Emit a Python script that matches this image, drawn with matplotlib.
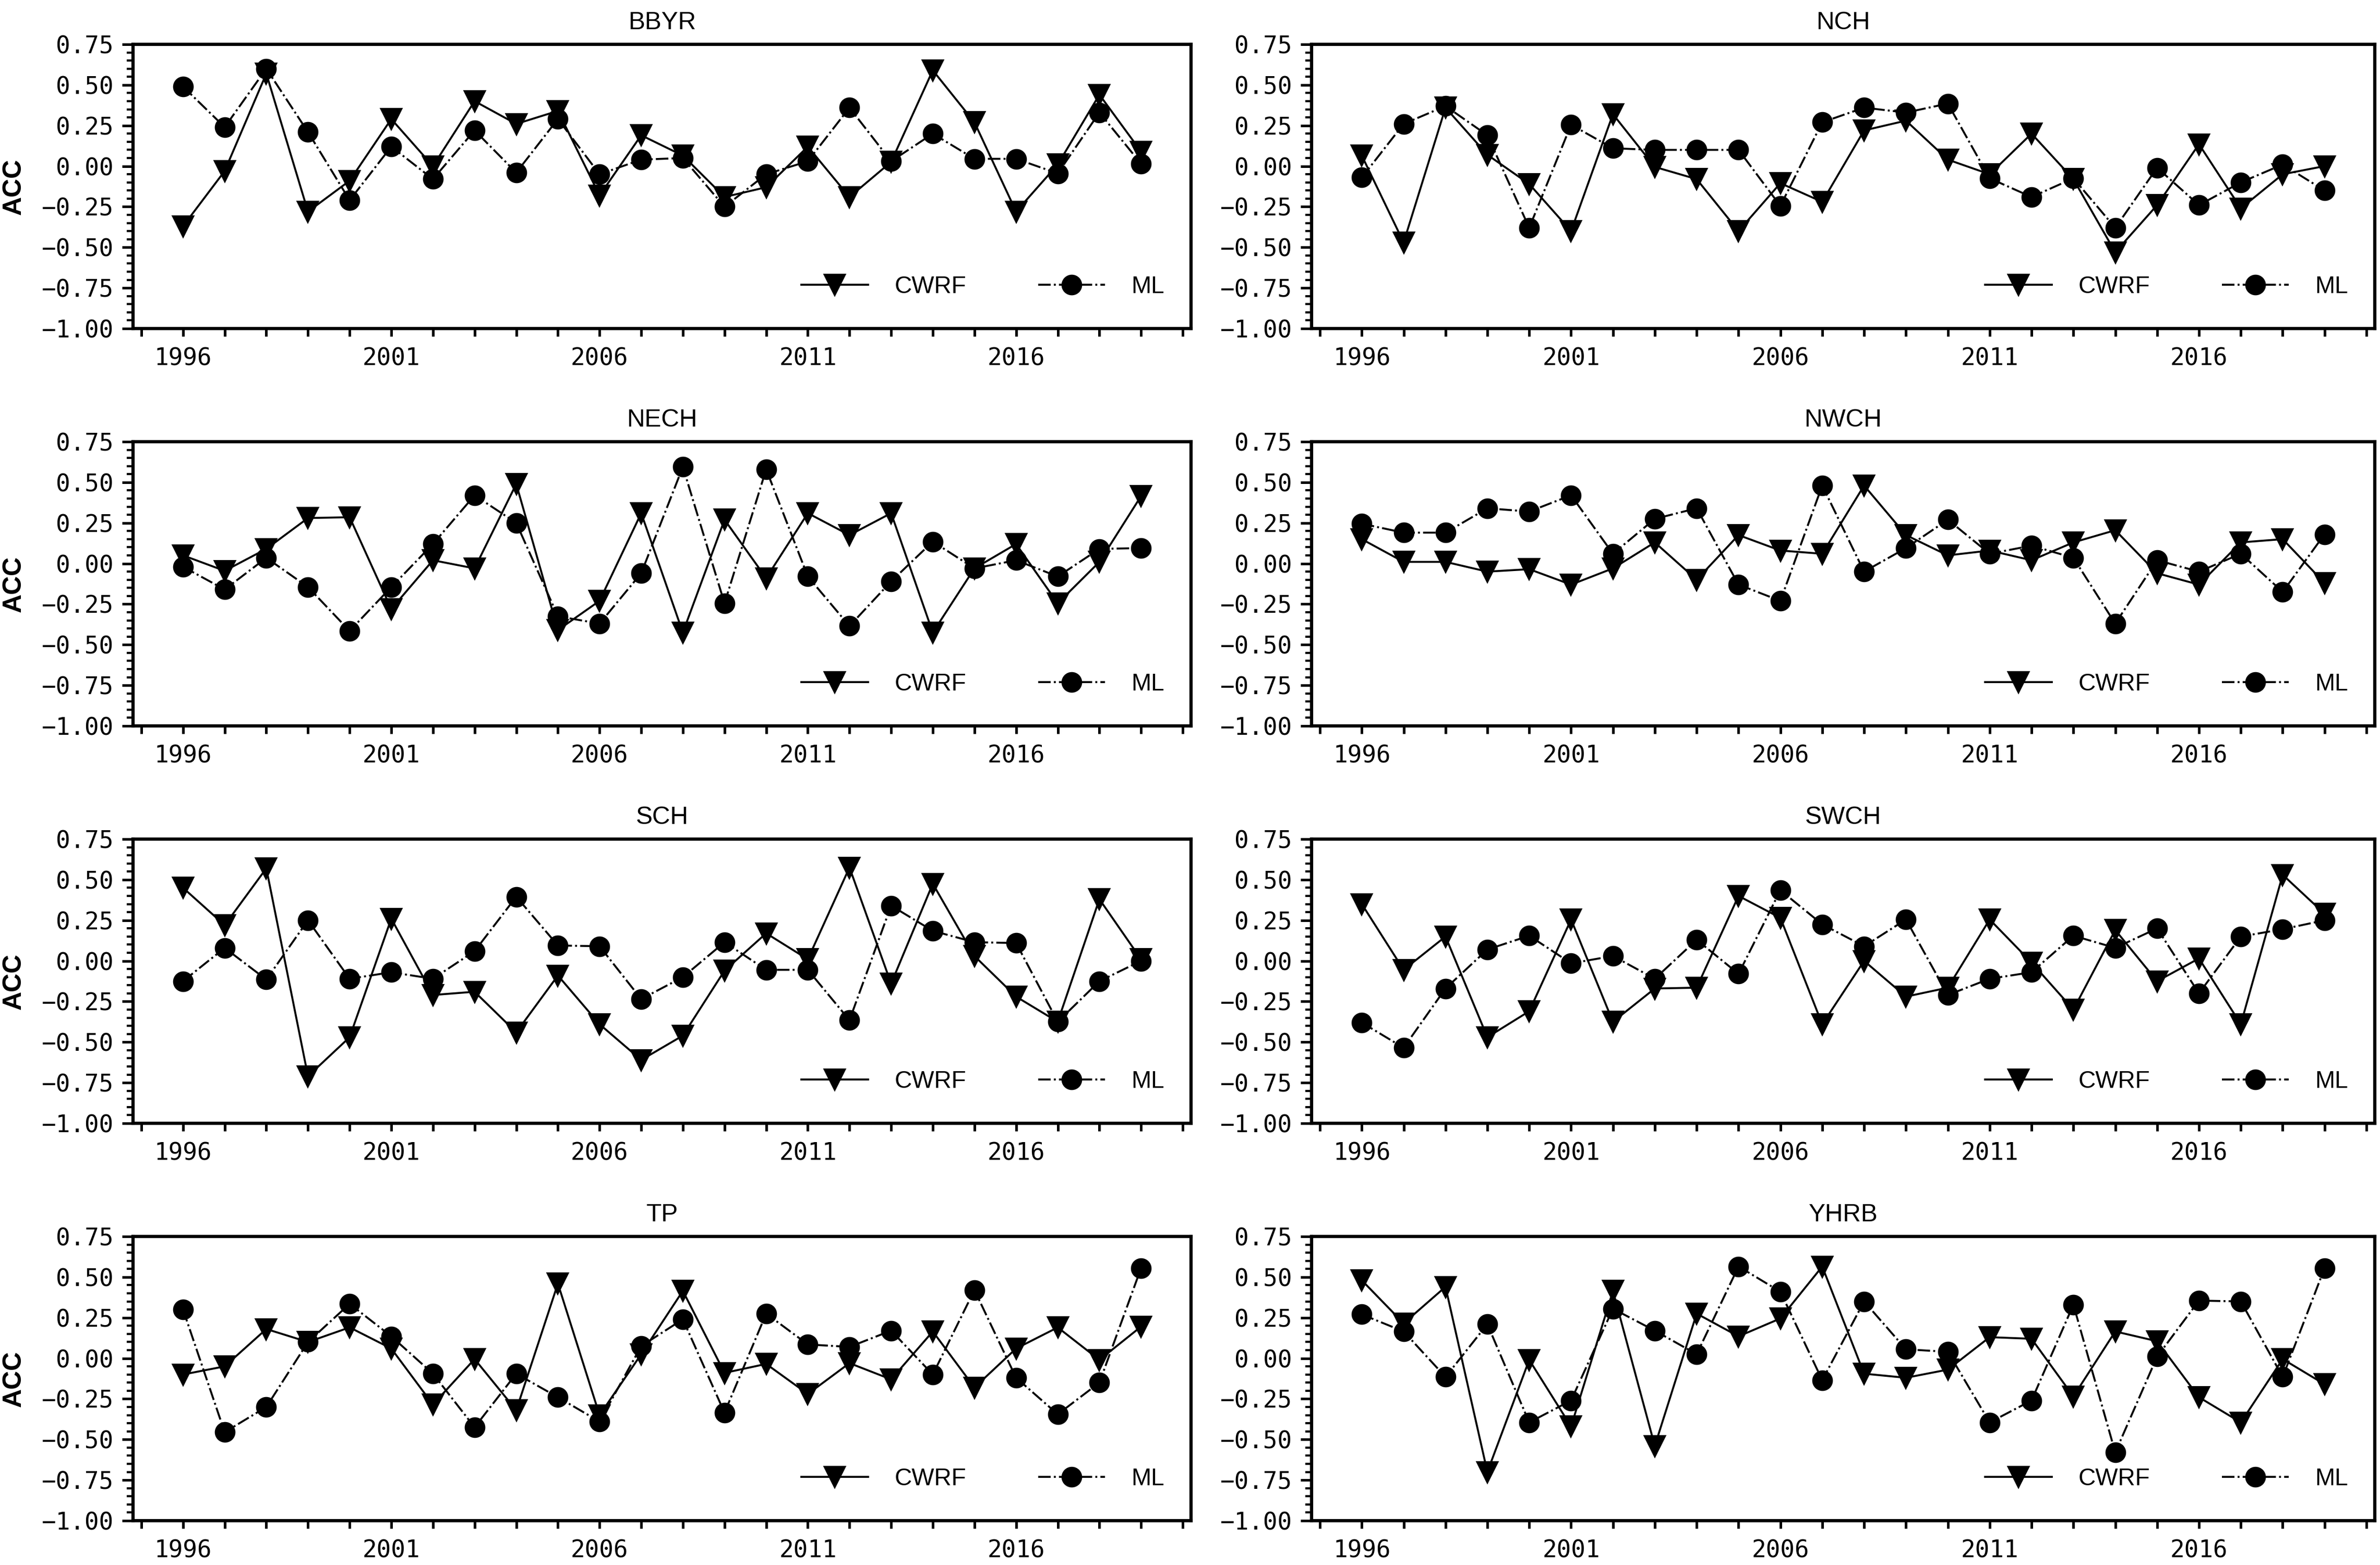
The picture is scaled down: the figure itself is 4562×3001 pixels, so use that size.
import numpy as np
import matplotlib
matplotlib.use("Agg")
import matplotlib.pyplot as plt
from matplotlib.ticker import MultipleLocator

years = list(range(1996, 2020))
regions = ["BBYR", "NCH", "NECH", "NWCH", "SCH", "SWCH", "TP", "YHRB"]

cwrf_bbyr = [-0.37, -0.03, 0.57, -0.28, -0.09, 0.29, 0.00, 0.40, 0.26, 0.34, -0.18, 0.19,
             0.065, -0.19, -0.13, 0.12, -0.19, 0.026, 0.59, 0.27, -0.28, 0.01, 0.44, 0.09]
ml_bbyr = [0.49, 0.24, 0.60, 0.21, -0.21, 0.12, -0.08, 0.22, -0.04, 0.29, -0.05, 0.04,
           0.05, -0.25, -0.05, 0.03, 0.36, 0.03, 0.20, 0.045, 0.045, -0.045, 0.33, 0.015]

cwrf_nch = [0.065, -0.47, 0.36, 0.07, -0.11, -0.40, 0.32, -0.005, -0.08, -0.40, -0.105, -0.22,
            0.22, 0.28, 0.04, -0.05, 0.20, -0.08, -0.53, -0.24, 0.135, -0.26, -0.05, 0.00]
ml_nch = [-0.07, 0.26, 0.37, 0.19, -0.38, 0.255, 0.11, 0.10, 0.10, 0.10, -0.245, 0.27,
          0.36, 0.33, 0.385, -0.075, -0.19, -0.075, -0.38, -0.01, -0.24, -0.10, 0.01, -0.15]

cwrf_nech = [0.05, -0.045, 0.09, 0.28, 0.285, -0.28, 0.02, -0.03, 0.49, -0.41, -0.23, 0.31,
             -0.425, 0.27, -0.09, 0.31, 0.175, 0.31, -0.425, -0.03, 0.12, -0.245, 0.01, 0.415]
ml_nech = [-0.02, -0.16, 0.035, -0.145, -0.415, -0.145, 0.12, 0.42, 0.25, -0.325, -0.37, -0.06,
           0.595, -0.245, 0.58, -0.08, -0.385, -0.11, 0.135, -0.03, 0.02, -0.08, 0.09, 0.095]

cwrf_nwch = [0.15, 0.01, 0.01, -0.05, -0.035, -0.13, -0.03, 0.13, -0.10, 0.175, 0.08, 0.06,
             0.48, 0.175, 0.05, 0.08, 0.02, 0.13, 0.205, -0.06, -0.13, 0.13, 0.15, -0.12]
ml_nwch = [0.245, 0.19, 0.19, 0.34, 0.32, 0.42, 0.06, 0.275, 0.34, -0.13, -0.23, 0.48,
           -0.05, 0.095, 0.27, 0.06, 0.11, 0.035, -0.37, 0.02, -0.05, 0.06, -0.175, 0.18]

cwrf_sch = [0.45, 0.22, 0.57, -0.71, -0.47, 0.26, -0.21, -0.19, -0.44, -0.09, -0.39, -0.61,
            -0.46, -0.06, 0.17, 0.01, 0.575, -0.14, 0.475, 0.03, -0.22, -0.375, 0.38, 0.01]
ml_sch = [-0.125, 0.08, -0.115, 0.25, -0.11, -0.07, -0.11, 0.06, 0.395, 0.095, 0.09, -0.235,
          -0.10, 0.115, -0.055, -0.055, -0.365, 0.34, 0.185, 0.115, 0.11, -0.375, -0.125, 0.00]

cwrf_swch = [0.35, -0.055, 0.15, -0.47, -0.31, 0.255, -0.375, -0.17, -0.165, 0.40, 0.265, -0.39,
             0.00, -0.22, -0.165, 0.255, -0.01, -0.30, 0.19, -0.125, 0.015, -0.39, 0.53, 0.29]
ml_swch = [-0.38, -0.535, -0.17, 0.07, 0.155, -0.015, 0.03, -0.11, 0.13, -0.08, 0.435, 0.225,
           0.09, 0.255, -0.21, -0.11, -0.07, 0.155, 0.08, 0.20, -0.20, 0.15, 0.195, 0.25]

cwrf_tp = [-0.10, -0.05, 0.18, 0.10, 0.19, 0.06, -0.285, -0.005, -0.32, 0.46, -0.35, 0.025,
           0.415, -0.09, -0.035, -0.22, -0.03, -0.13, 0.165, -0.18, 0.06, 0.19, -0.01, 0.195]
ml_tp = [0.30, -0.455, -0.30, 0.10, 0.335, 0.135, -0.095, -0.425, -0.095, -0.24, -0.39, 0.075,
         0.24, -0.335, 0.275, 0.085, 0.07, 0.17, -0.10, 0.42, -0.12, -0.345, -0.15, 0.555]

cwrf_yhrb = [0.48, 0.215, 0.44, -0.70, -0.01, -0.42, 0.415, -0.54, 0.275, 0.135, 0.245, 0.565,
             -0.095, -0.12, -0.07, 0.13, 0.12, -0.235, 0.165, 0.105, -0.24, -0.395, -0.005, -0.16]
ml_yhrb = [0.27, 0.165, -0.115, 0.21, -0.395, -0.26, 0.305, 0.17, 0.025, 0.565, 0.41, -0.135,
           0.35, 0.055, 0.04, -0.395, -0.26, 0.33, -0.58, 0.01, 0.355, 0.35, -0.115, 0.555]

cwrf_all = [cwrf_bbyr, cwrf_nch, cwrf_nech, cwrf_nwch, cwrf_sch, cwrf_swch, cwrf_tp, cwrf_yhrb]
ml_all = [ml_bbyr, ml_nch, ml_nech, ml_nwch, ml_sch, ml_swch, ml_tp, ml_yhrb]

tick_font = "DejaVu Sans Mono"
text_font = "Liberation Sans"

fig = plt.figure(figsize=(4562 / 300, 3001 / 300), dpi=300)

# panel geometry in pixels of the final picture
W, H = 4562.0, 3001.0
col_x = [(255, 2028), (2514, 2038)]
row_top = [85, 847, 1609, 2371]
ax_h = 545

yt = np.arange(-1.0, 0.76, 0.25)

for i, name in enumerate(regions):
    r, c = divmod(i, 2)
    x0, w = col_x[c]
    bottom = 1 - (row_top[r] + ax_h) / H
    ax = fig.add_axes([x0 / W, bottom, w / W, ax_h / H])

    ax.plot(years, cwrf_all[i], color="black", lw=0.9, ls="-",
            marker="v", ms=9, mfc="black", mec="black", label="CWRF")
    ax.plot(years, ml_all[i], color="black", lw=0.9, ls="-.",
            marker="o", ms=8.5, mfc="black", mec="black", label="ML")

    ax.set_xlim(1994.8, 2020.2)
    ax.set_ylim(-1.0, 0.75)
    ax.set_xticks(range(1996, 2020, 5))
    ax.xaxis.set_minor_locator(MultipleLocator(1))
    ax.set_yticks(yt)
    ax.yaxis.set_minor_locator(MultipleLocator(0.05))
    ax.set_yticklabels([f"{v:.2f}".replace("-", "\u2212") for v in yt])

    ax.tick_params(axis="y", which="major", direction="out", length=5, width=1.2, pad=4)
    ax.tick_params(axis="y", which="minor", direction="out", length=2.8, width=1.0)
    ax.tick_params(axis="x", which="both", direction="out", length=3.5, width=1.2, pad=5)
    for lab in ax.get_xticklabels() + ax.get_yticklabels():
        lab.set_fontfamily(tick_font)
        lab.set_fontsize(11)

    for s in ax.spines.values():
        s.set_linewidth(1.5)

    ax.set_title(name, fontsize=11.5, family=text_font, pad=7)
    if c == 0:
        ax.set_ylabel("ACC", fontsize=12, family=text_font, fontweight="bold")
        ax.yaxis.set_label_coords(-0.101, 0.5)

    ax.legend(loc="center right", bbox_to_anchor=(0.975, 0.147), ncol=2, frameon=False,
              prop={"family": text_font, "size": 11}, handlelength=2.8,
              handletextpad=1.1, columnspacing=3.0, borderpad=0, borderaxespad=0)

fig.savefig("out.png", dpi=300)
